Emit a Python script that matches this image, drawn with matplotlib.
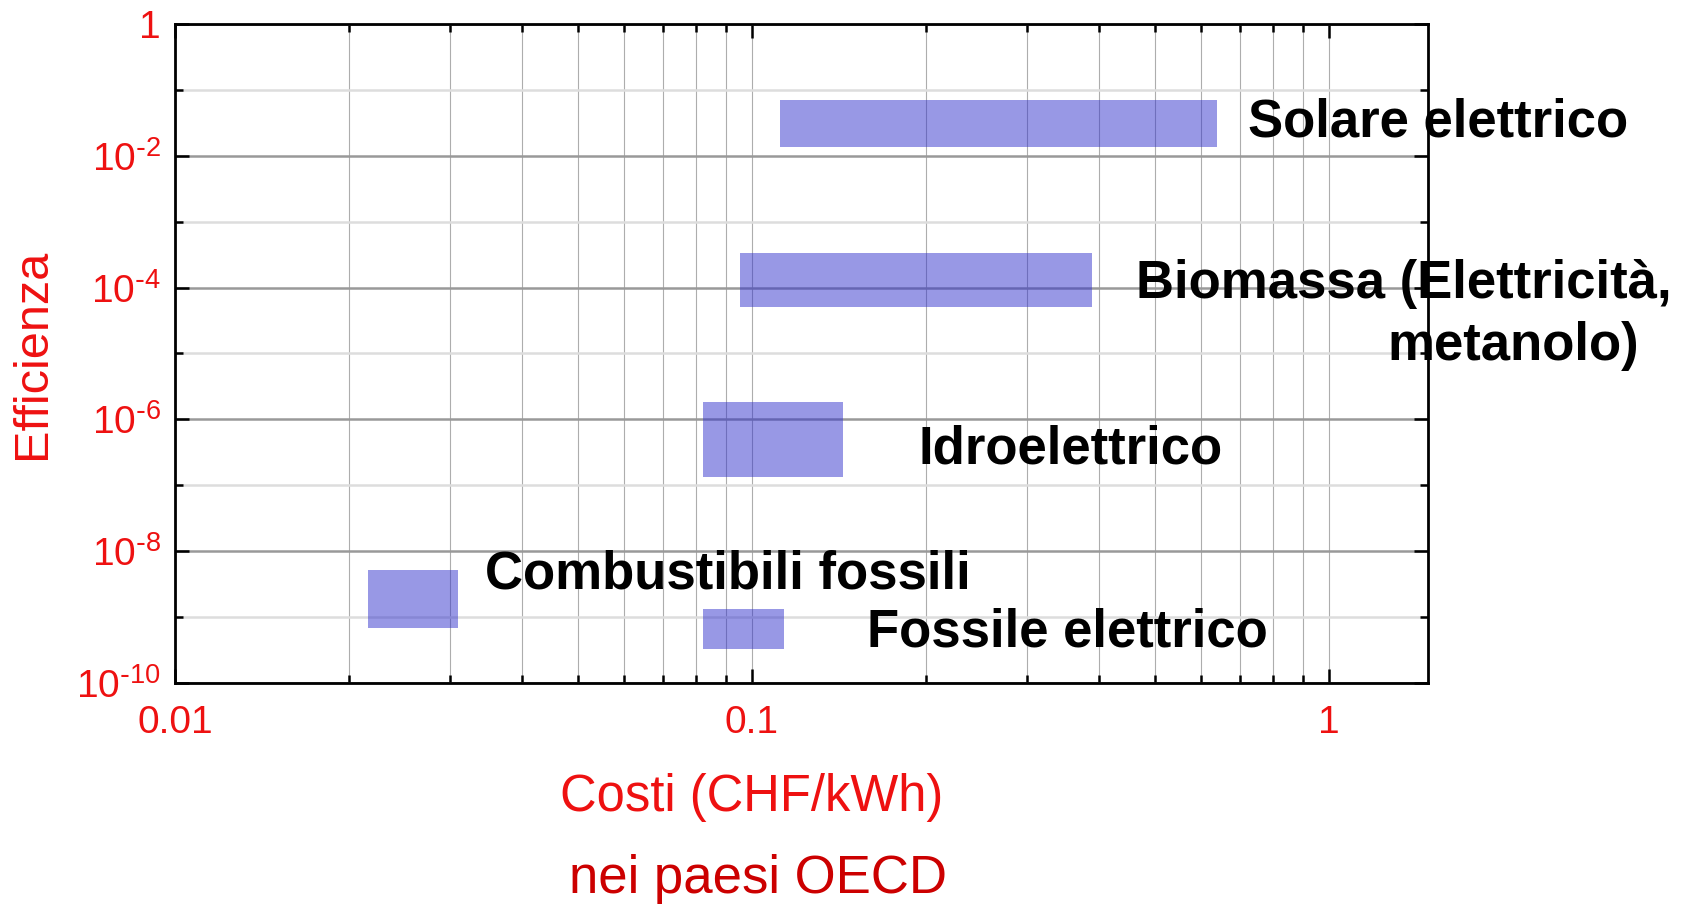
import matplotlib
matplotlib.use('Agg')
import matplotlib.pyplot as plt
from matplotlib.ticker import FixedLocator, LogLocator, NullFormatter

plt.rcParams['font.family'] = ['Liberation Sans', 'DejaVu Sans']
plt.rcParams['mathtext.default'] = 'regular'

# Cost ranges (CHF/kWh) and efficiency ranges for each energy source
sources = ['Solare elettrico', 'Biomassa', 'Idroelettrico',
           'Combustibili fossili', 'Fossile elettrico']
cost_lo = [0.112, 0.0953, 0.0824, 0.0216, 0.0824]
cost_hi = [0.640, 0.388, 0.1437, 0.0309, 0.1138]
eff_hi = [10**-1.15, 10**-3.48, 10**-5.73, 10**-8.29, 10**-8.87]
eff_lo = [10**-1.87, 10**-4.29, 10**-6.87, 10**-9.16, 10**-9.48]

# Labels next to the bars: (text, x, y)
labels = [
    ('Solare elettrico', 0.724, 10**-1.49),
    ('Biomassa (Elettricità,', 0.463, 10**-3.94),
    ('metanolo)', 1.26, 10**-4.89),
    ('Idroelettrico', 0.194, 10**-6.45),
    ('Combustibili fossili', 0.0345, 10**-8.36),
    ('Fossile elettrico', 0.158, 10**-9.23),
]

x_ticks = [0.01, 0.1, 1]
x_ticklabels = ['0.01', '0.1', '1']
y_major = [1, 1e-2, 1e-4, 1e-6, 1e-8, 1e-10]
y_ticklabels = ['1', r'$10^{\text{-}2}$', r'$10^{\text{-}4}$', r'$10^{\text{-}6}$',
                r'$10^{\text{-}8}$', r'$10^{\text{-}10}$']
y_minor = [1e-1, 1e-3, 1e-5, 1e-7, 1e-9]

red = '#ee1111'

fig = plt.figure(figsize=(16.92, 9.08), dpi=100)
ax = fig.add_axes([0.1034, 0.2478, 0.7406, 0.7258])
ax.set_xscale('log')
ax.set_yscale('log')
ax.set_xlim(0.01, 1.485)
ax.set_ylim(1e-10, 1)

# grid
ax.xaxis.set_minor_locator(LogLocator(base=10, subs=range(2, 10)))
ax.xaxis.set_minor_formatter(NullFormatter())
ax.set_xticks(x_ticks)
ax.set_xticklabels(x_ticklabels)
ax.yaxis.set_major_locator(FixedLocator(y_major))
ax.set_yticklabels(y_ticklabels)
ax.yaxis.set_minor_locator(FixedLocator(y_minor))
ax.yaxis.set_minor_formatter(NullFormatter())

ax.grid(axis='x', which='both', color='#999999', linewidth=0.8, alpha=0.8)
ax.grid(axis='y', which='major', color='#999999', linewidth=1.8)
ax.grid(axis='y', which='minor', color='#dddddd', linewidth=1.8)
ax.set_axisbelow(True)

for lo, hi, b, t in zip(cost_lo, cost_hi, eff_lo, eff_hi):
    ax.fill_between([lo, hi], [b, b], [t, t], color='#3333cc', alpha=0.5,
                    linewidth=0, zorder=3)

for txt, x, y in labels:
    ax.text(x, y, txt, fontsize=38, fontweight='bold', va='center', ha='left',
            color='black', zorder=5, clip_on=False)

for s in ax.spines.values():
    s.set_linewidth(2)
ax.tick_params(which='both', direction='in', top=True, right=True, width=1.8)
ax.tick_params(which='major', length=10, labelsize=28, labelcolor=red)
ax.tick_params(axis='x', which='major', pad=16)
ax.tick_params(axis='y', which='major', pad=10)
ax.tick_params(which='minor', length=6)

ax.set_ylabel('Efficienza', fontsize=35, color=red, va='center')
ax.yaxis.set_label_coords(-0.114, 0.5)
ax.set_xlabel('Costi (CHF/kWh)', fontsize=36.5, color=red, va='center')
ax.xaxis.set_label_coords(0.4605, -0.1745)
fig.text(0.448, 1 - 879 / 908, 'nei paesi OECD', fontsize=38, color='#cc0000',
         ha='center', va='center')

fig.savefig('out.png', dpi=100, facecolor='white')
